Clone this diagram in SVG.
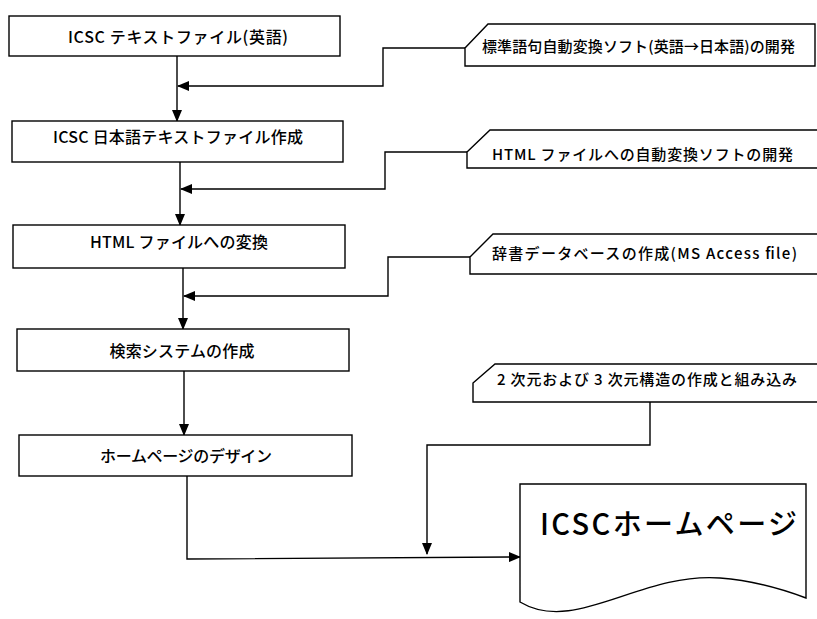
<svg xmlns="http://www.w3.org/2000/svg" width="817" height="619" viewBox="0 0 817 619">
<style>
  .box { fill: #fff; stroke: #000; stroke-width: 1.4; }
  .t { font-family: "Noto Sans CJK JP", "Liberation Sans", sans-serif; font-weight: 500; fill: #000; }
  .bt { font-size: 16px; text-anchor: middle; }
  .lt { font-size: 15px; }
  .ln { fill: none; stroke: #000; stroke-width: 1.4; }
</style>
<defs>
  <marker id="ah" markerUnits="userSpaceOnUse" markerWidth="12" markerHeight="10" viewBox="0 0 12 10" refX="11" refY="5" orient="auto">
    <path d="M0,0 L12,5 L0,10 Z" fill="#000"/>
  </marker>
</defs>
<rect width="817" height="619" fill="#fff"/>

<g id="connectors">
  <line class="ln" x1="177" y1="56" x2="177" y2="121" marker-end="url(#ah)"/>
  <polyline class="ln" points="465,48 383,48 383,86 178,86" marker-end="url(#ah)"/>
  <line class="ln" x1="180" y1="162" x2="180" y2="225" marker-end="url(#ah)"/>
  <polyline class="ln" points="467,152 385,152 385,189 181,189" marker-end="url(#ah)"/>
  <line class="ln" x1="183" y1="268" x2="183" y2="329" marker-end="url(#ah)"/>
  <polyline class="ln" points="470,257 388,257 388,296 184,296" marker-end="url(#ah)"/>
  <line class="ln" x1="184" y1="371" x2="184" y2="435" marker-end="url(#ah)"/>
  <polyline class="ln" points="187,476 187,559 520,557" marker-end="url(#ah)"/>
  <polyline class="ln" points="650,402 650,445 427,445 427,554" marker-end="url(#ah)"/>
</g>

<g id="n1">
  <rect class="box" x="9" y="16" width="331" height="40"/>
  <text class="t bt" x="178" y="43" textLength="220" lengthAdjust="spacing">ICSC テキストファイル(英語)</text>
</g>
<g id="n2">
  <rect class="box" x="12" y="121" width="331" height="41"/>
  <text class="t bt" x="178" y="143" textLength="250" lengthAdjust="spacing">ICSC 日本語テキストファイル作成</text>
</g>
<g id="n3">
  <rect class="box" x="13" y="225" width="332" height="43"/>
  <text class="t bt" x="179" y="248" textLength="178" lengthAdjust="spacing">HTML ファイルへの変換</text>
</g>
<g id="n4">
  <rect class="box" x="17" y="329" width="332" height="42"/>
  <text class="t bt" x="182" y="357" textLength="145" lengthAdjust="spacing">検索システムの作成</text>
</g>
<g id="n5">
  <rect class="box" x="19" y="435" width="333" height="41"/>
  <text class="t bt" x="186" y="462" textLength="172" lengthAdjust="spacing">ホームページのデザイン</text>
</g>

<g id="l1">
  <path class="box" d="M465,48 L488,24 L815,24 L815,66 L465,66 Z"/>
  <text class="t lt" x="482" y="52" textLength="313" lengthAdjust="spacing">標準語句自動変換ソフト(英語→日本語)の開発</text>
</g>
<g id="l2">
  <path class="box" d="M467,152 L490,130 L820,130 L820,168 L467,168 Z"/>
  <text class="t lt" x="492" y="160" textLength="301" lengthAdjust="spacing">HTML ファイルへの自動変換ソフトの開発</text>
</g>
<g id="l3">
  <path class="box" d="M470,257 L493,234 L820,234 L820,274 L470,274 Z"/>
  <text class="t lt" x="492" y="259" textLength="305" lengthAdjust="spacing">辞書データベースの作成(MS Access file)</text>
</g>
<g id="l4">
  <path class="box" d="M473,383 L495,364 L820,364 L820,402 L473,402 Z"/>
  <text class="t lt" x="497" y="385" textLength="300" lengthAdjust="spacing">2 次元および 3 次元構造の作成と組み込み</text>
</g>

<g id="doc">
  <path class="box" d="M520,484 L806,484 L806,598 C790,592 760,581 720,578 C640,572 575,635 520,602 Z"/>
  <text class="t" x="540" y="535" font-size="29" textLength="257" lengthAdjust="spacing">ICSCホームページ</text>
</g>
</svg>
